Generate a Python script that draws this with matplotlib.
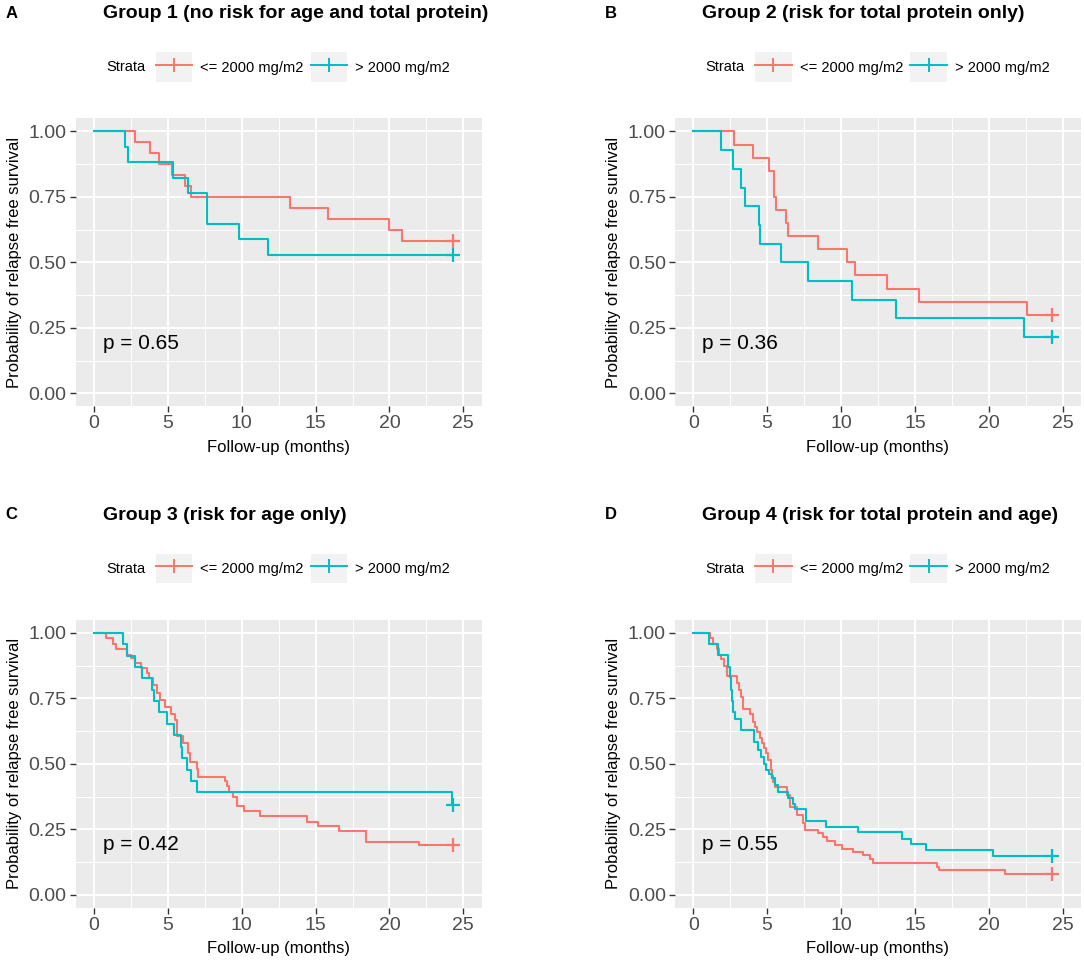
import matplotlib.pyplot as plt
from matplotlib.legend_handler import HandlerLine2D
from matplotlib.lines import Line2D
from matplotlib.patches import Rectangle
from matplotlib.ticker import MultipleLocator

plt.rcParams['font.family'] = ['Liberation Sans', 'DejaVu Sans']

RED = '#F8766D'
CYAN = '#00BFC4'

letters = ['A', 'B', 'C', 'D']
titles = ['Group 1 (no risk for age and total protein)',
          'Group 2 (risk for total protein only)',
          'Group 3 (risk for age only)',
          'Group 4 (risk for total protein and age)']
pvalues = ['0.65', '0.36', '0.42', '0.55']
strata_labels = ['<= 2000 mg/m2', '> 2000 mg/m2']
x_ticks = [0, 5, 10, 15, 20, 25]
y_ticks = [0.0, 0.25, 0.5, 0.75, 1.0]
censor_time = 24.3

# event times (months) and survival after each event
g1_low_t = [2.75, 3.78, 4.43, 5.25, 6.18, 6.58, 13.3, 15.86, 19.94, 20.83]
g1_low_s = [0.958, 0.917, 0.875, 0.833, 0.792, 0.750, 0.708, 0.667, 0.625, 0.583]
g1_high_t = [2.10, 2.29, 5.32, 6.37, 7.63, 9.80, 11.78]
g1_high_s = [0.941, 0.882, 0.824, 0.765, 0.647, 0.588, 0.529]

g2_low_t = [2.77, 4.06, 5.14, 5.44, 5.62, 6.25, 6.39, 8.44, 10.42, 10.92, 13.08, 15.25, 22.56]
g2_low_s = [0.95, 0.90, 0.85, 0.75, 0.70, 0.65, 0.60, 0.55, 0.50, 0.45, 0.40, 0.35, 0.30]
g2_high_t = [1.85, 2.66, 3.20, 3.50, 4.47, 4.54, 5.93, 7.78, 10.72, 13.71, 22.40]
g2_high_s = [0.929, 0.857, 0.786, 0.714, 0.643, 0.571, 0.500, 0.429, 0.357, 0.286, 0.214]

g3_low_t = [0.81, 1.31, 1.49, 2.21, 2.48, 2.78, 3.18, 3.57, 3.72, 4.01, 4.24, 4.47, 4.80,
            5.19, 5.48, 5.64, 6.05, 6.34, 6.50, 6.95, 7.06, 8.87, 8.98, 9.16, 9.39, 9.66,
            10.18, 11.24, 14.40, 15.19, 16.61, 18.42, 22.03]
g3_low_s = [0.979, 0.958, 0.938, 0.917, 0.906, 0.885, 0.865, 0.845, 0.826, 0.800, 0.772,
            0.745, 0.717, 0.690, 0.667, 0.605, 0.578, 0.540, 0.508, 0.479, 0.451, 0.435,
            0.415, 0.393, 0.374, 0.339, 0.319, 0.300, 0.279, 0.263, 0.244, 0.202, 0.190]
g3_high_t = [1.94, 2.21, 2.78, 3.23, 3.90, 4.06, 4.40, 4.96, 5.44, 5.87, 5.94, 6.32, 6.57,
             6.95, 24.25]
g3_high_s = [0.957, 0.913, 0.870, 0.826, 0.783, 0.739, 0.696, 0.652, 0.609, 0.565, 0.522,
             0.478, 0.435, 0.391, 0.342]

g4_low_t = [1.15, 1.35, 1.62, 1.76, 1.85, 2.08, 2.26, 2.98, 3.11, 3.23, 3.38, 3.84, 4.02,
            4.17, 4.29, 4.51, 4.63, 4.78, 4.92, 5.08, 5.24, 5.30, 5.40, 5.53, 6.32, 6.54,
            7.00, 7.44, 7.56, 8.46, 8.80, 9.02, 9.59, 10.04, 10.83, 11.50, 11.96, 12.14,
            16.47, 16.60, 21.09]
g4_low_s = [0.979, 0.957, 0.938, 0.915, 0.900, 0.873, 0.835, 0.807, 0.781, 0.756, 0.711,
            0.692, 0.660, 0.641, 0.622, 0.597, 0.578, 0.559, 0.540, 0.514, 0.476, 0.455,
            0.432, 0.410, 0.381, 0.336, 0.304, 0.273, 0.247, 0.234, 0.221, 0.205, 0.190,
            0.175, 0.164, 0.152, 0.135, 0.120, 0.105, 0.094, 0.079]
g4_high_t = [1.06, 1.69, 2.37, 2.48, 2.55, 2.62, 2.70, 2.85, 3.26, 4.11, 4.40, 4.56, 4.78,
             4.92, 5.14, 5.30, 5.53, 5.75, 6.43, 6.77, 6.88, 7.63, 8.96, 11.16, 14.16,
             14.77, 15.74, 20.30]
g4_high_s = [0.957, 0.915, 0.868, 0.830, 0.780, 0.740, 0.698, 0.673, 0.631, 0.584, 0.552,
             0.527, 0.501, 0.476, 0.460, 0.444, 0.420, 0.393, 0.368, 0.347, 0.326, 0.283,
             0.260, 0.238, 0.211, 0.192, 0.171, 0.148]

groups = [
    (g1_low_t, g1_low_s, g1_high_t, g1_high_s),
    (g2_low_t, g2_low_s, g2_high_t, g2_high_s),
    (g3_low_t, g3_low_s, g3_high_t, g3_high_s),
    (g4_low_t, g4_low_s, g4_high_t, g4_high_s),
]


class KeyHandler(HandlerLine2D):
    # legend key with the grey ggplot key background
    def create_artists(self, legend, orig_handle, xdescent, ydescent,
                       width, height, fontsize, trans):
        bg = Rectangle((-xdescent, -ydescent - 0.25 * height), width, height * 1.5,
                       facecolor='#F2F2F2', edgecolor='none', transform=trans)
        arts = super().create_artists(legend, orig_handle, xdescent, ydescent,
                                      width, height, fontsize, trans)
        return [bg] + list(arts)


W, H = 1084, 968
fig = plt.figure(figsize=(W / 100, H / 100), dpi=100)

ax_w, ax_h = 406.3, 288.0
lefts = [75.5, 674.8, 75.5, 674.8]
tops = [118.4, 118.4, 619.8, 619.8]

for i, (lt, ls, ht, hs) in enumerate(groups):
    left, top = lefts[i], tops[i]
    ax = fig.add_axes([left / W, 1 - (top + ax_h) / H, ax_w / W, ax_h / H])
    ax.set_facecolor('#EBEBEB')
    for sp in ax.spines.values():
        sp.set_visible(False)
    ax.set_xlim(-1.25, 26.25)
    ax.set_ylim(-0.05, 1.05)
    ax.set_xticks(x_ticks)
    ax.set_yticks(y_ticks)
    ax.set_yticklabels(['%.2f' % v for v in y_ticks])
    ax.xaxis.set_minor_locator(MultipleLocator(2.5))
    ax.yaxis.set_minor_locator(MultipleLocator(0.125))
    ax.grid(which='major', color='white', linewidth=1.4)
    ax.grid(which='minor', color='white', linewidth=0.7)
    ax.set_axisbelow(True)
    ax.tick_params(which='major', length=4, width=1.0, color='#333333',
                   labelsize=14, labelcolor='#4D4D4D', pad=2.5)
    ax.tick_params(which='minor', length=0)

    for t, s, col in [(lt, ls, RED), (ht, hs, CYAN)]:
        xs = [0] + list(t) + [censor_time]
        ys = [1.0] + list(s) + [s[-1]]
        ax.step(xs, ys, where='post', color=col, linewidth=1.5)
        ax.plot([censor_time], [s[-1]], marker='+', color=col,
                markersize=10, markeredgewidth=1.6, linestyle='none')

    ax.text(0.6, 0.19, 'p = ' + pvalues[i], fontsize=15, va='center', ha='left')

    ax.set_xlabel('Follow-up (months)', fontsize=12)
    ax.set_ylabel('Probability of relapse free survival', fontsize=12)
    ax.xaxis.set_label_coords(0.5, -0.115)
    ax.yaxis.set_label_coords(-0.132, 0.5)

    ax.text(0.0677, 1.3625, titles[i], transform=ax.transAxes, fontsize=14,
            fontweight='bold', ha='left', va='center')
    ax.text(0.171, 1.178, 'Strata', transform=ax.transAxes, fontsize=10.5,
            ha='right', va='center')

    handles = [Line2D([], [], color=RED, marker='+', markersize=10, markeredgewidth=1.4,
                      linewidth=1.4),
               Line2D([], [], color=CYAN, marker='+', markersize=10, markeredgewidth=1.4,
                      linewidth=1.4)]
    ax.legend(handles, strata_labels, loc='center', bbox_to_anchor=(0.56, 1.178),
              ncol=2, frameon=False, fontsize=10.5, handlelength=2.5, handleheight=1.7,
              handletextpad=0.55, columnspacing=0.5, borderpad=0, numpoints=1,
              handler_map={Line2D: KeyHandler()})

    fig.text((left - 70) / W, 1 - (top - 105) / H, letters[i], fontsize=12,
             fontweight='bold', ha='left', va='center')

fig.savefig('out.png', dpi=100)
